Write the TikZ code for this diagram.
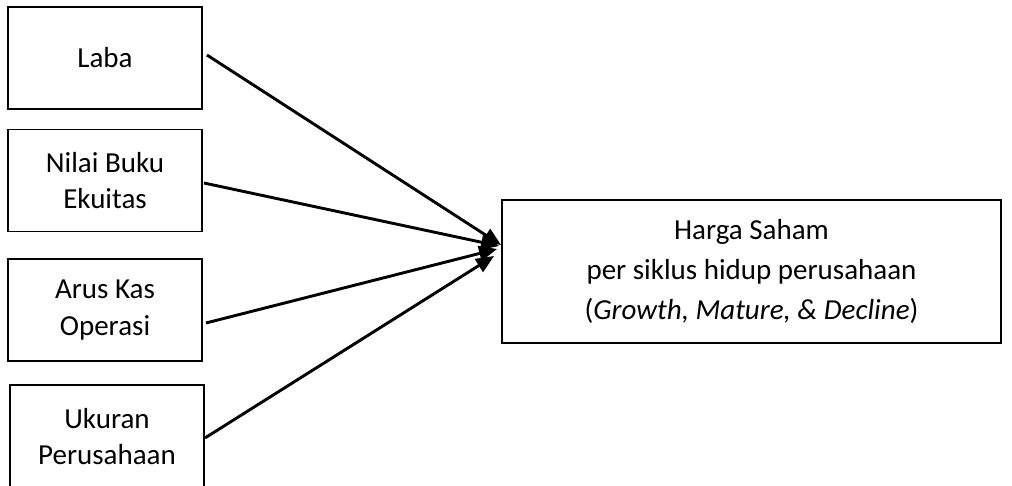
\documentclass[tikz,border=0pt]{standalone}
\usepackage{fontspec}
\setmainfont{Carlito}
\usetikzlibrary{arrows.meta,calc}

\begin{document}
\begin{tikzpicture}[x=1pt,y=-1pt,
  box/.style={draw, line width=1.9pt, minimum width=194pt, minimum height=102pt,
    inner sep=0pt, align=center, font=\fontsize{29}{36.5}\selectfont},
  goal/.style={box, minimum width=499pt, minimum height=143pt,
    font=\fontsize{29}{40}\selectfont},
  link/.style={line width=2.9pt, -{Triangle[length=18pt,width=15pt]}}]
  \useasboundingbox (0,0) rectangle (1012,486);

  % variables on the left
  \node[box] (laba)   at (105,58)    {Laba};
  \node[box] (nilai)  at (105,180.5) {Nilai Buku\\Ekuitas};
  \node[box] (arus)   at (105,310)   {Arus Kas\\Operasi};
  \node[box, minimum height=103pt] (ukuran) at (107,436.5) {Ukuran\\Perusahaan};

  % dependent variable
  \node[goal] (harga) at (751.5,271.5)
    {Harga Saham\\per siklus hidup perusahaan\\(\textit{Growth, Mature, \& Decline})};

  % arrow ends at the left side of the target box
  \coordinate (e1) at ($(harga.west)+(0,-26.5)$);
  \coordinate (e2) at ($(harga.west)+(-2,-25.5)$);
  \coordinate (e3) at ($(harga.west)+(-4,-22.5)$);
  \coordinate (e4) at ($(harga.west)+(-7,-15.5)$);

  \draw[link] ($(laba.east)+(4,-3)$)   -- (e1);
  \draw[link] ($(nilai.east)+(1,2.5)$) -- (e2);
  \draw[link] ($(arus.east)+(3,13)$)   -- (e3);
  \draw[link] ($(ukuran.east)+(0,1.5)$) -- (e4);
\end{tikzpicture}
\end{document}
